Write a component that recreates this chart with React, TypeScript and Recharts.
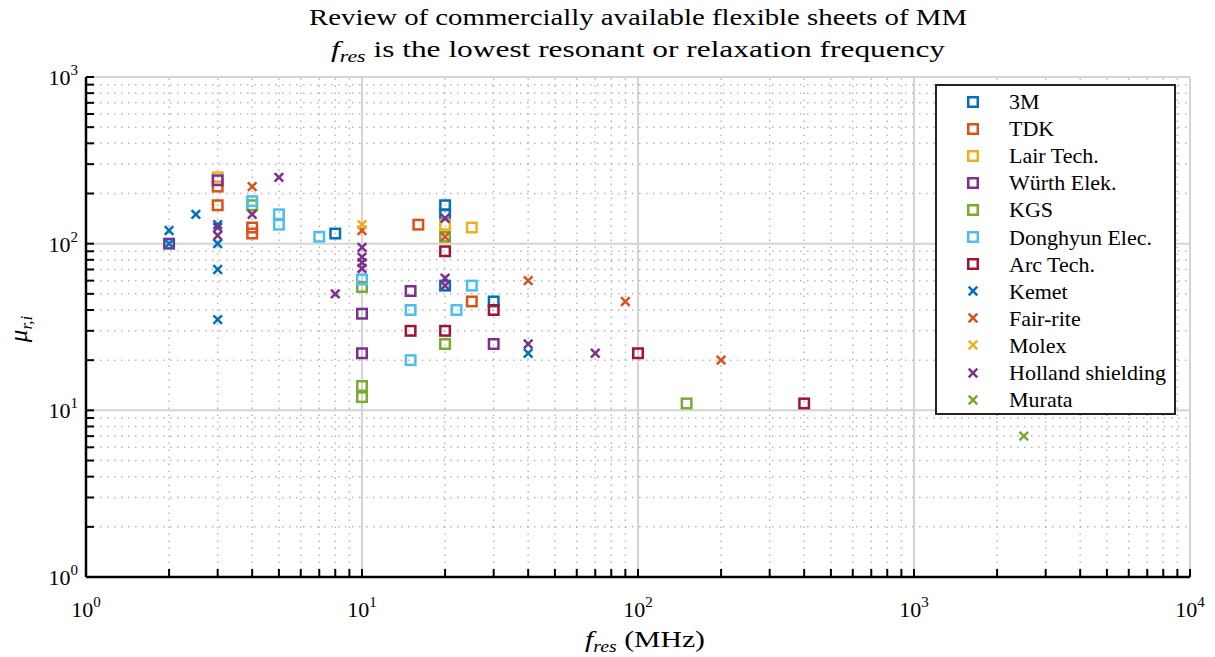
import React from "react";
import { ScatterChart, Scatter, XAxis, YAxis, ReferenceLine, Legend } from "recharts";

// values: [f_res (MHz), mu_r,i]
const threeM: [number, number][] = [[8, 115], [20, 170], [20, 150], [20, 56], [30, 45]];
const tdk: [number, number][] = [[3, 220], [3, 170], [4, 125], [4, 115], [16, 130], [25, 45]];
const lairTech: [number, number][] = [[3, 250], [20, 130], [25, 125]];
const wurthElek: [number, number][] = [[2, 100], [3, 240], [10, 38], [10, 22], [15, 52], [30, 25]];
const kgs: [number, number][] = [[4, 170], [10, 55], [10, 14], [10, 12], [20, 110], [20, 25], [150, 11]];
const donghyun: [number, number][] = [
  [4, 180], [5, 150], [5, 130], [7, 110], [10, 61], [15, 40], [15, 20], [22, 40], [25, 56],
];
const arcTech: [number, number][] = [[15, 30], [20, 90], [20, 30], [30, 40], [100, 22], [400, 11]];
const kemet: [number, number][] = [
  [2, 120], [2, 100], [2.5, 150], [3, 130], [3, 100], [3, 70], [3, 35], [40, 22],
];
const fairRite: [number, number][] = [[4, 220], [10, 120], [20, 110], [40, 60], [90, 45], [200, 20]];
const molex: [number, number][] = [[10, 130]];
const holland: [number, number][] = [
  [3, 125], [3, 112], [4, 150], [5, 250], [8, 50], [10, 95], [10, 83], [10, 77], [10, 71],
  [20, 142], [20, 62], [20, 56], [40, 25], [70, 22],
];
const murata: [number, number][] = [[2500, 7]];

const xMajor = [1, 10, 100, 1000, 10000];
const yMajor = [1, 10, 100, 1000];
const minorSteps = [2, 3, 4, 5, 6, 7, 8, 9];

const minorOf = (major: number[]) =>
  major.slice(0, -1).flatMap((d) => minorSteps.map((m) => m * d));
const xMinor = minorOf(xMajor);
const yMinor = minorOf(yMajor);
const xTicks = [...xMajor, ...xMinor].sort((a, b) => a - b);
const yTicks = [...yMajor, ...yMinor].sort((a, b) => a - b);

type Marker = "square" | "cross";
const series: { name: string; color: string; marker: Marker; points: [number, number][] }[] = [
  { name: "3M", color: "#0072BD", marker: "square", points: threeM },
  { name: "TDK", color: "#D95319", marker: "square", points: tdk },
  { name: "Lair Tech.", color: "#EDB120", marker: "square", points: lairTech },
  { name: "Würth Elek.", color: "#7E2F8E", marker: "square", points: wurthElek },
  { name: "KGS", color: "#77AC30", marker: "square", points: kgs },
  { name: "Donghyun Elec.", color: "#4DBEEE", marker: "square", points: donghyun },
  { name: "Arc Tech.", color: "#A2142F", marker: "square", points: arcTech },
  { name: "Kemet", color: "#0072BD", marker: "cross", points: kemet },
  { name: "Fair-rite", color: "#D95319", marker: "cross", points: fairRite },
  { name: "Molex", color: "#EDB120", marker: "cross", points: molex },
  { name: "Holland shielding", color: "#7E2F8E", marker: "cross", points: holland },
  { name: "Murata", color: "#77AC30", marker: "cross", points: murata },
];

const FONT = "Liberation Serif, DejaVu Serif, serif";
const PLOT_LEFT = 86;
const PLOT_BOTTOM = 577;

const isDecade = (v: number) => Math.abs(Math.log10(v) - Math.round(Math.log10(v))) < 1e-9;

const MarkerGlyph = ({ cx, cy, color, marker }: any) =>
  marker === "square" ? (
    <rect x={cx - 4.75} y={cy - 4.75} width={9.5} height={9.5} fill="none" stroke={color} strokeWidth={2.5} />
  ) : (
    <g stroke={color} strokeWidth={2.5}>
      <line x1={cx - 4.3} y1={cy - 4.3} x2={cx + 4.3} y2={cy + 4.3} />
      <line x1={cx - 4.3} y1={cy + 4.3} x2={cx + 4.3} y2={cy - 4.3} />
    </g>
  );

const XTick = ({ x, payload }: any) => {
  const v = payload.value;
  const major = isDecade(v);
  return (
    <g>
      <line x1={x} x2={x} y1={PLOT_BOTTOM} y2={PLOT_BOTTOM - 8} stroke="#000" strokeWidth={2} />
      {major && (
        <text x={x} y={617} textAnchor="middle" style={{ fontFamily: FONT }} fontSize={22} fill="#000">
          10
          <tspan dy={-10} fontSize={15}>
            {Math.round(Math.log10(v))}
          </tspan>
        </text>
      )}
    </g>
  );
};

const YTick = ({ y, payload }: any) => {
  const v = payload.value;
  const major = isDecade(v);
  return (
    <g>
      <line x1={PLOT_LEFT} x2={PLOT_LEFT + 8} y1={y} y2={y} stroke="#000" strokeWidth={2} />
      {major && (
        <text x={78} y={y + 8} textAnchor="end" style={{ fontFamily: FONT }} fontSize={22} fill="#000">
          10
          <tspan dy={-10} fontSize={15}>
            {Math.round(Math.log10(v))}
          </tspan>
        </text>
      )}
    </g>
  );
};

const LegendBox = () => (
  <div
    style={{
      width: 241,
      height: 331,
      boxSizing: "border-box",
      border: "2px solid #222",
      background: "#fff",
      position: "relative",
      fontFamily: FONT,
      fontSize: 22,
      color: "#000",
    }}
  >
    {series.map((s, i) => (
      <div
        key={s.name}
        style={{ position: "absolute", left: 0, top: 2 + i * 27.1, height: 27.1, width: "100%" }}
      >
        <svg width={14} height={14} style={{ position: "absolute", left: 29, top: 6.5 }}>
          <MarkerGlyph cx={7} cy={7} color={s.color} marker={s.marker} />
        </svg>
        <span style={{ position: "absolute", left: 72, top: 0, lineHeight: "27px", whiteSpace: "nowrap" }}>
          {s.name}
        </span>
      </div>
    ))}
  </div>
);

export default function App() {
  return (
    <div style={{ position: "absolute", left: 0, top: 0, background: "#fff" }}>
      <ScatterChart width={1215} height={657} margin={{ top: 77, right: 25, bottom: 0, left: 6 }}>
        <XAxis
          dataKey="x"
          type="number"
          scale="log"
          domain={[1, 10000]}
          allowDataOverflow
          ticks={xTicks}
          interval={0}
          tick={<XTick />}
          tickLine={false}
          axisLine={{ stroke: "#000", strokeWidth: 2.5 }}
          height={80}
        />
        <YAxis
          dataKey="y"
          type="number"
          scale="log"
          domain={[1, 1000]}
          allowDataOverflow
          ticks={yTicks}
          interval={0}
          tick={<YTick />}
          tickLine={false}
          axisLine={{ stroke: "#000", strokeWidth: 2.5 }}
          width={80}
        />
        {xMinor.map((v) => (
          <ReferenceLine key={"xm" + v} x={v} stroke="#b8b8b8" strokeWidth={1.5} strokeDasharray="1.5 5.5" />
        ))}
        {yMinor.map((v) => (
          <ReferenceLine key={"ym" + v} y={v} stroke="#b8b8b8" strokeWidth={1.5} strokeDasharray="1.5 5.5" />
        ))}
        {xMajor.slice(1).map((v) => (
          <ReferenceLine key={"xM" + v} x={v} stroke="#d4d4d4" strokeWidth={2} />
        ))}
        {yMajor.slice(1).map((v) => (
          <ReferenceLine key={"yM" + v} y={v} stroke="#d4d4d4" strokeWidth={2} />
        ))}
        {series.map((s) => (
          <Scatter
            key={s.name}
            name={s.name}
            data={s.points.map(([x, y]) => ({ x, y }))}
            isAnimationActive={false}
            shape={(p: any) => <MarkerGlyph cx={p.cx} cy={p.cy} color={s.color} marker={s.marker} />}
          />
        ))}
        <Legend
          layout="vertical"
          align="center"
          verticalAlign="middle"
          wrapperStyle={{ left: 935, top: 84, width: 241, height: 331 }}
          content={() => <LegendBox />}
        />
        <text x={638} y={25} textAnchor="middle" style={{ fontFamily: FONT }} fontSize={23} fill="#000" textLength={658} lengthAdjust="spacingAndGlyphs">
          Review of commercially available flexible sheets of MM
        </text>
        <text x={638} y={57} textAnchor="middle" style={{ fontFamily: FONT }} fontSize={23} fill="#000" textLength={614} lengthAdjust="spacingAndGlyphs">
          <tspan fontStyle="italic">f</tspan>
          <tspan fontStyle="italic" fontSize={16} dy={5}>res</tspan>
          <tspan dy={-5}> is the lowest resonant or relaxation frequency</tspan>
        </text>
        <text x={645} y={647} textAnchor="middle" style={{ fontFamily: FONT }} fontSize={24} fill="#000" textLength={120} lengthAdjust="spacingAndGlyphs">
          <tspan fontStyle="italic">f</tspan>
          <tspan fontStyle="italic" fontSize={16} dy={5}>res</tspan>
          <tspan dy={-5}> (MHz)</tspan>
        </text>
        <text x={0} y={0} transform="translate(27 329) rotate(-90)" textAnchor="middle" style={{ fontFamily: FONT }} fontSize={25} fill="#000">
          <tspan fontStyle="italic">μ</tspan>
          <tspan fontStyle="italic" fontSize={17} dy={5}>r,i</tspan>
        </text>
      </ScatterChart>
    </div>
  );
}
